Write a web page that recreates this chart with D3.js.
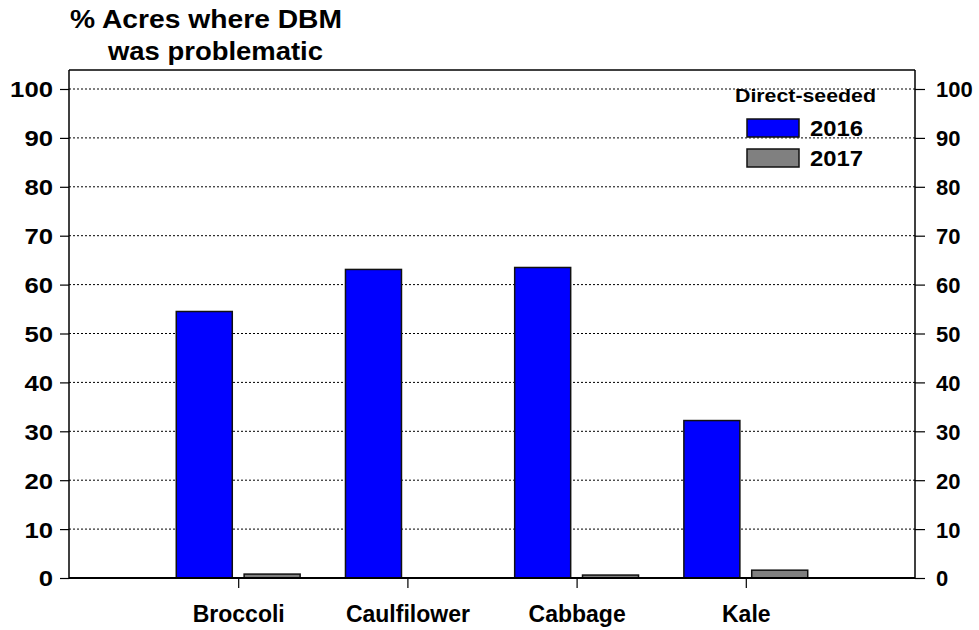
<!DOCTYPE html>
<html>
<head>
<meta charset="utf-8">
<script src="https://cdn.jsdelivr.net/npm/d3@7"></script>
<style>
  html, body { margin: 0; padding: 0; background: #fff; }
  text { font-family: "Liberation Sans", Arial, sans-serif; font-weight: bold; fill: #000; }
</style>
</head>
<body>
<svg id="chart" width="979" height="630"></svg>
<script>
const categories = ["Broccoli", "Caulfilower", "Cabbage", "Kale"];
const series2016 = [54.5, 63.1, 63.5, 32.2];
const series2017 = [0.8, 0.0, 0.6, 1.6];
const yTicks = [0, 10, 20, 30, 40, 50, 60, 70, 80, 90, 100];
const seriesNames = ["2016", "2017"];
const legendTitle = "Direct-seeded";
const titleLines = ["% Acres where DBM", "was problematic"];

const svg = d3.select("#chart");
const left = 69, right = 915, bottom = 578;

const x = d3.scaleLinear().domain([0, categories.length + 1]).range([left, right]);
const y = d3.scaleLinear().domain([0, 100]).range([bottom, 89]);
const topY = y(103.9);
const step = x(1) - x(0);
const barW = step * 0.331, gapW = step * 0.035;

// gridlines
svg.append("g").selectAll("line").data(yTicks.filter(d => d > 0)).join("line")
  .attr("x1", left).attr("x2", right)
  .attr("y1", d => y(d)).attr("y2", d => y(d))
  .attr("stroke", "#000").attr("stroke-width", 1).attr("stroke-dasharray", "2,2");

// bars
const g = svg.append("g");
g.selectAll("rect.b16").data(series2016).join("rect")
  .attr("x", (d, i) => x(i + 1) - gapW - barW).attr("width", barW)
  .attr("y", d => y(d)).attr("height", d => y(0) - y(d))
  .attr("fill", "#0000ff").attr("stroke", "#111").attr("stroke-width", 1.5);
g.selectAll("rect.b17").data(series2017).join("rect")
  .attr("x", (d, i) => x(i + 1) + gapW).attr("width", barW)
  .attr("y", d => y(d)).attr("height", d => y(0) - y(d))
  .attr("fill", "#808080").attr("stroke", "#111").attr("stroke-width", 1.5)
  .attr("display", d => d > 0 ? null : "none");

// frame
svg.append("line").attr("x1", left).attr("x2", right).attr("y1", topY).attr("y2", topY).attr("stroke", "#000").attr("stroke-width", 1.5);

// left axis
const yAxisL = svg.append("g").attr("transform", `translate(${left},0)`)
  .call(d3.axisLeft(y).tickValues(yTicks).tickSize(9).tickPadding(7).tickFormat(d3.format("d")));
yAxisL.select(".domain").attr("d", `M0,${topY}V${bottom}`).attr("stroke-width", 1.5);
const yAxisR = svg.append("g").attr("transform", `translate(${right},0)`)
  .call(d3.axisRight(y).tickValues(yTicks).tickSize(10).tickPadding(11).tickFormat(d3.format("d")));
yAxisR.select(".domain").attr("d", `M0,${topY}V${bottom}`).attr("stroke-width", 1.5);
[yAxisL, yAxisR].forEach(a => {
  a.attr("font-family", null).attr("font-size", null);
  a.selectAll(".tick line").attr("stroke-width", 1.2);
  a.selectAll(".tick text").style("font-size", "22px").attr("dy", "0.36em");
});
yAxisL.selectAll(".tick text")
  .attr("textLength", d => String(d).length * 14.3).attr("lengthAdjust", "spacingAndGlyphs");

// bottom axis
const xAxis = svg.append("g").attr("transform", `translate(0,${bottom})`)
  .call(d3.axisBottom(x).tickValues(d3.range(1, categories.length + 1)).tickSize(10).tickPadding(34)
    .tickFormat(d => categories[d - 1]));
xAxis.attr("font-family", null).attr("font-size", null);
xAxis.select(".domain").attr("d", `M${left},0H${right}`).attr("stroke-width", 2.2);
xAxis.selectAll(".tick line").attr("stroke-width", 1.2);
xAxis.selectAll(".tick text").style("font-size", "23px").attr("dy", "0");

// title
svg.append("text").attr("x", 70).attr("y", 28).style("font-size", "26px")
  .attr("textLength", 272).attr("lengthAdjust", "spacingAndGlyphs").text(titleLines[0]);
svg.append("text").attr("x", 108).attr("y", 60).style("font-size", "26px")
  .attr("textLength", 215).attr("lengthAdjust", "spacingAndGlyphs").text(titleLines[1]);

// legend
svg.append("text").attr("x", 735).attr("y", 102).style("font-size", "18px")
  .attr("textLength", 141).attr("lengthAdjust", "spacingAndGlyphs").text(legendTitle);
const fills = ["#0000ff", "#808080"];
seriesNames.forEach((n, i) => {
  svg.append("rect").attr("x", 747).attr("y", 119 + i * 30).attr("width", 52).attr("height", 18)
    .attr("fill", fills[i]).attr("stroke", "#111").attr("stroke-width", 1.5);
  svg.append("text").attr("x", 810).attr("y", 136 + i * 30).style("font-size", "22px")
    .attr("textLength", 53).attr("lengthAdjust", "spacingAndGlyphs").text(n);
});
</script>
</body>
</html>
